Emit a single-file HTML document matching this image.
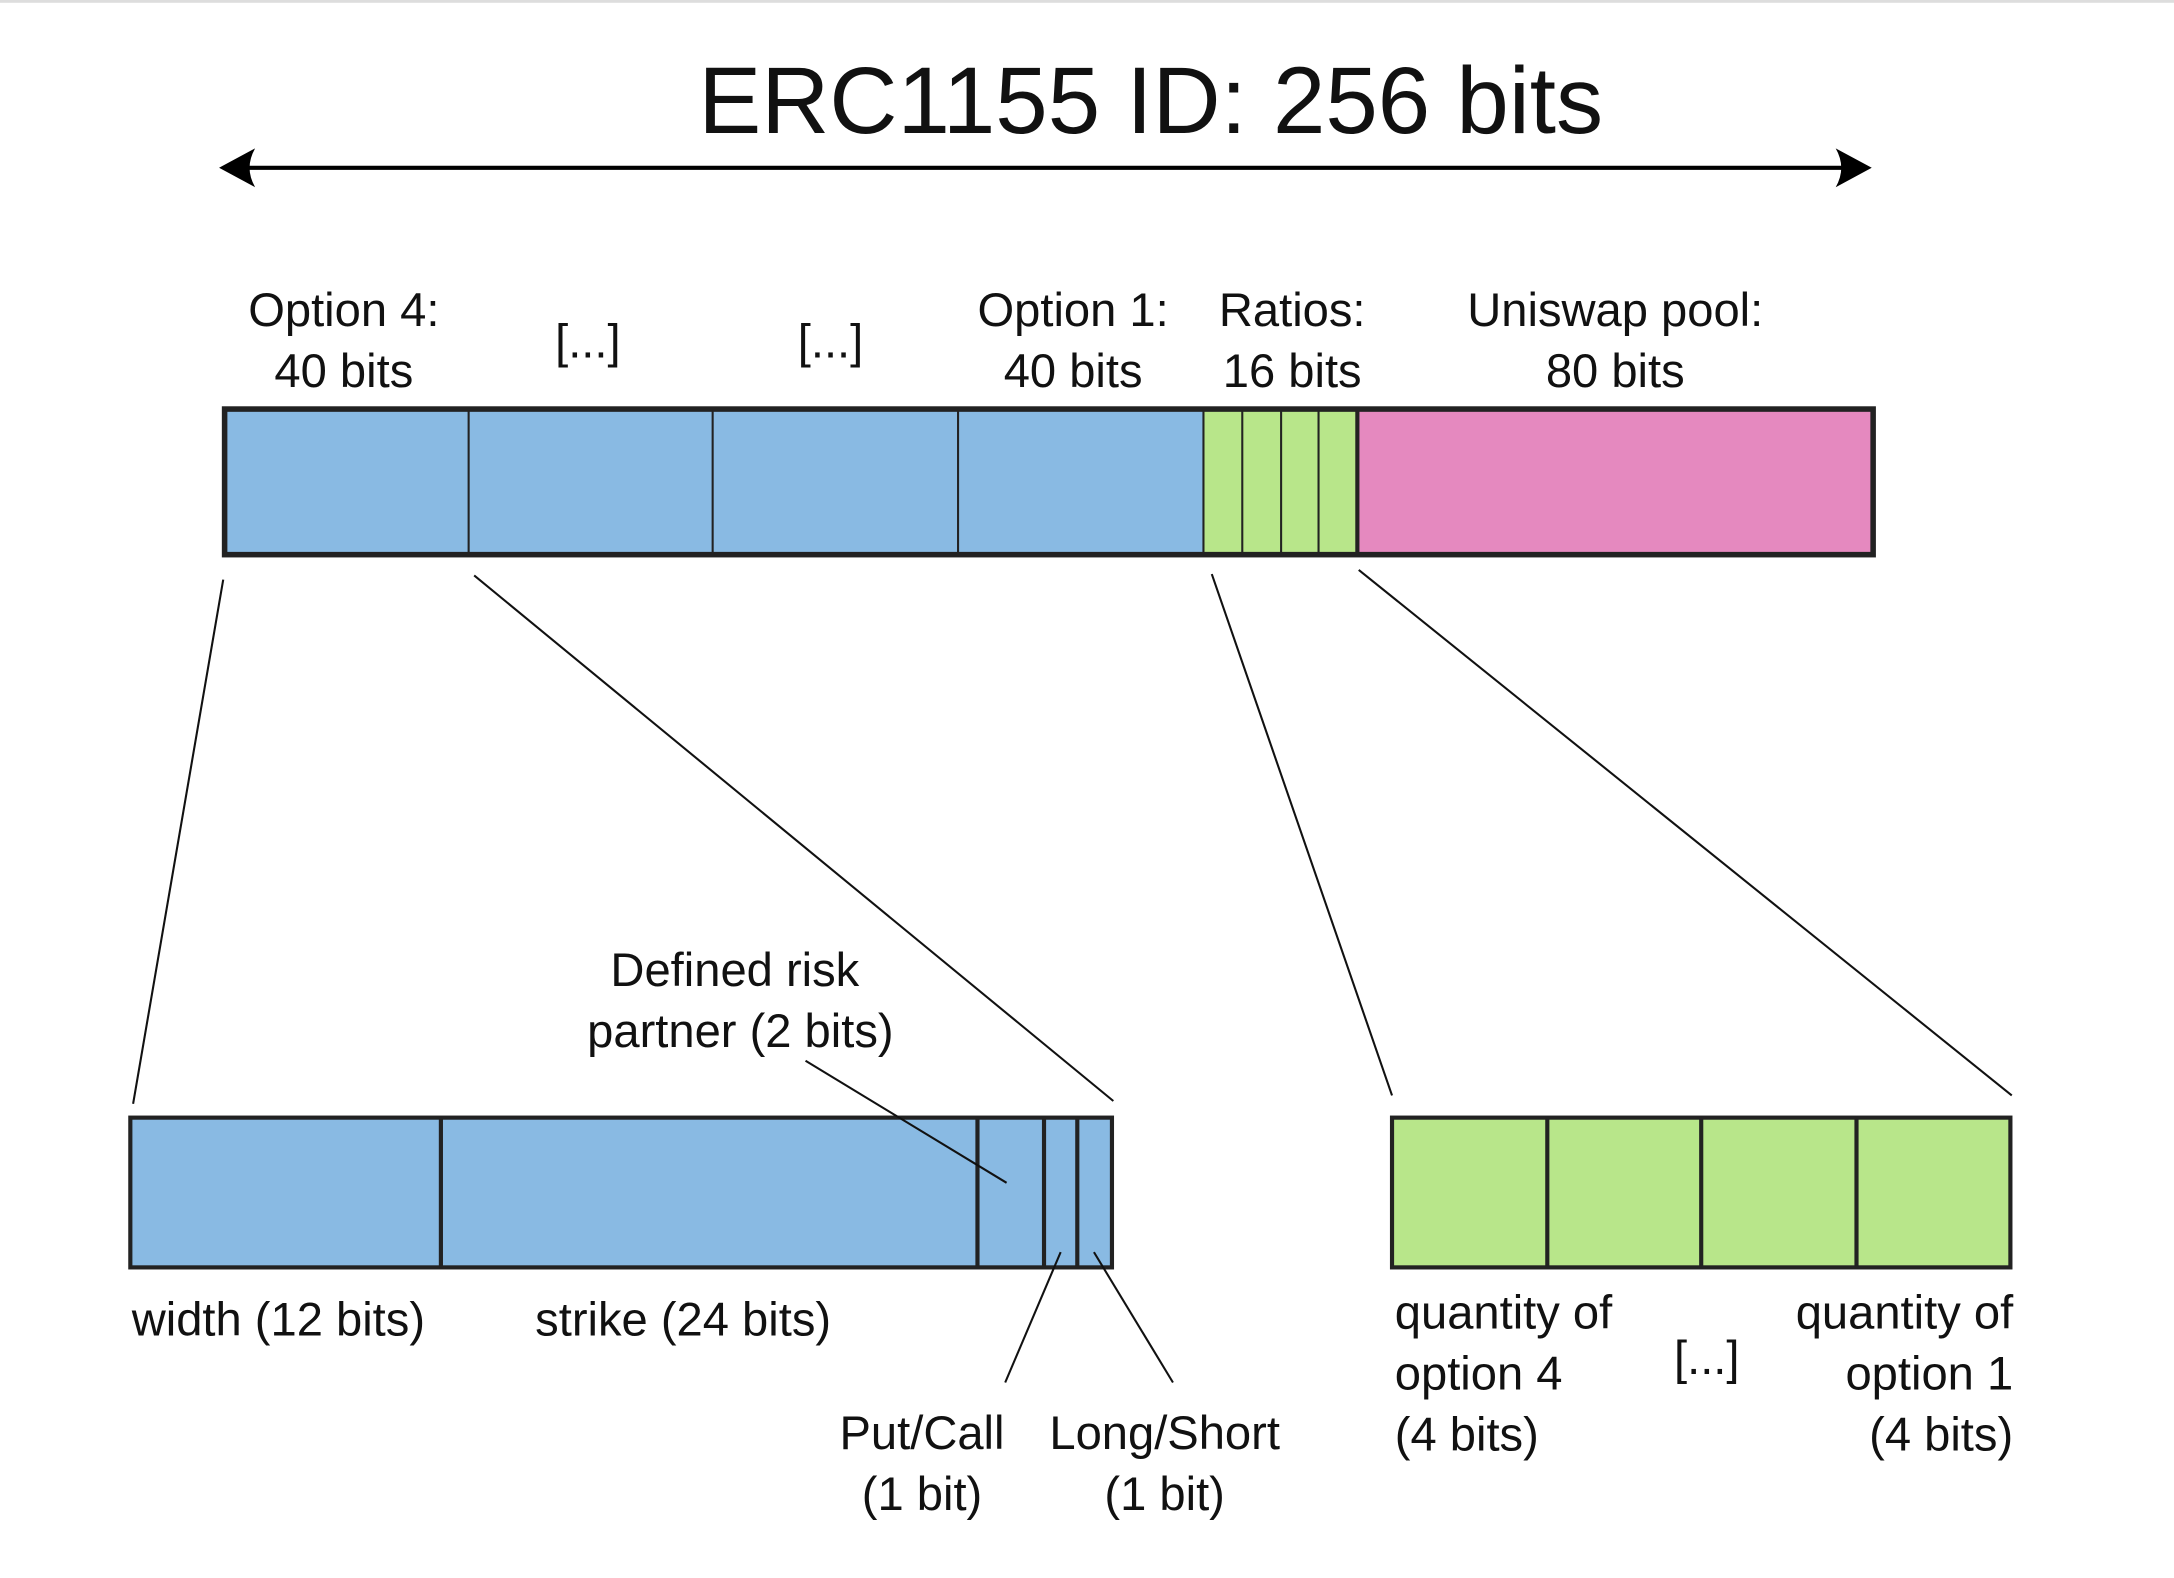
<!DOCTYPE html>
<html><head><meta charset="utf-8"><style>
html,body{margin:0;padding:0;background:#fff;}
svg{display:block;}
text{font-family:"Liberation Sans",sans-serif;fill:#111;}
</style></head><body>
<svg width="2174" height="1578" viewBox="0 0 1568 1138" preserveAspectRatio="none" xmlns="http://www.w3.org/2000/svg">
<rect x="0" y="0" width="1568" height="2" fill="#ddd"/>
<text x="830" y="96" font-size="68" text-anchor="middle">ERC1155 ID: 256 bits</text>
<line x1="170" y1="121" x2="1340" y2="121" stroke="#000" stroke-width="3"/>
<path d="M158 121 L184 107 Q176 121 184 135 Z" fill="#000"/>
<path d="M1350 121 L1324 107 Q1332 121 1324 135 Z" fill="#000"/>
<g font-size="34" text-anchor="middle">
<text x="248" y="235">Option 4:</text><text x="248" y="279">40 bits</text>
<text x="424" y="258">[...]</text>
<text x="599" y="258">[...]</text>
<text x="774" y="235">Option 1:</text><text x="774" y="279">40 bits</text>
<text x="932" y="235">Ratios:</text><text x="932" y="279">16 bits</text>
<text x="1165" y="235">Uniswap pool:</text><text x="1165" y="279">80 bits</text>
</g>
<rect x="162" y="295" width="706" height="105" fill="#89bae3"/>
<rect x="868" y="295" width="111" height="105" fill="#b8e68a"/>
<rect x="979" y="295" width="372" height="105" fill="#e589bf"/>
<g stroke="#222" stroke-width="1.5">
<line x1="338" y1="295" x2="338" y2="400"/><line x1="514" y1="295" x2="514" y2="400"/>
<line x1="691" y1="295" x2="691" y2="400"/><line x1="868" y1="295" x2="868" y2="400"/>
<line x1="896" y1="295" x2="896" y2="400"/><line x1="924" y1="295" x2="924" y2="400"/>
<line x1="951" y1="295" x2="951" y2="400"/><line x1="979" y1="295" x2="979" y2="400" stroke-width="3"/>
</g>
<rect x="162" y="295" width="1189" height="105" fill="none" stroke="#222" stroke-width="4"/>
<g stroke="#111" stroke-width="1.5">
<line x1="161" y1="418" x2="96" y2="796"/>
<line x1="342" y1="415" x2="803" y2="794"/>
<line x1="874" y1="414" x2="1004" y2="790"/>
<line x1="980" y1="411" x2="1451" y2="790"/>
</g>
<rect x="94" y="806" width="708" height="108" fill="#89bae3" stroke="#222" stroke-width="3"/>
<g stroke="#222" stroke-width="3">
<line x1="318" y1="806" x2="318" y2="914"/><line x1="705" y1="806" x2="705" y2="914"/>
<line x1="753" y1="806" x2="753" y2="914"/><line x1="777" y1="806" x2="777" y2="914"/>
</g>
<rect x="1004" y="806" width="446" height="108" fill="#b8e68a" stroke="#222" stroke-width="3"/>
<g stroke="#222" stroke-width="3">
<line x1="1116" y1="806" x2="1116" y2="914"/><line x1="1227" y1="806" x2="1227" y2="914"/><line x1="1339" y1="806" x2="1339" y2="914"/>
</g>
<g stroke="#111" stroke-width="1.5">
<line x1="581" y1="765" x2="726" y2="853"/>
<line x1="765" y1="903" x2="725" y2="997"/>
<line x1="789" y1="903" x2="846" y2="997"/>
</g>
<g font-size="34">
<text x="530" y="711" text-anchor="middle">Defined risk</text>
<text x="534" y="755" text-anchor="middle">partner (2 bits)</text>
<text x="95" y="963">width (12 bits)</text>
<text x="386" y="963">strike (24 bits)</text>
<text x="665" y="1045" text-anchor="middle">Put/Call</text>
<text x="665" y="1089" text-anchor="middle">(1 bit)</text>
<text x="840" y="1045" text-anchor="middle">Long/Short</text>
<text x="840" y="1089" text-anchor="middle">(1 bit)</text>
<text x="1006" y="958">quantity of</text>
<text x="1006" y="1002">option 4</text>
<text x="1006" y="1046">(4 bits)</text>
<text x="1231" y="991" text-anchor="middle">[...]</text>
<text x="1452" y="958" text-anchor="end">quantity of</text>
<text x="1452" y="1002" text-anchor="end">option 1</text>
<text x="1452" y="1046" text-anchor="end">(4 bits)</text>
</g>
</svg>
</body></html>
